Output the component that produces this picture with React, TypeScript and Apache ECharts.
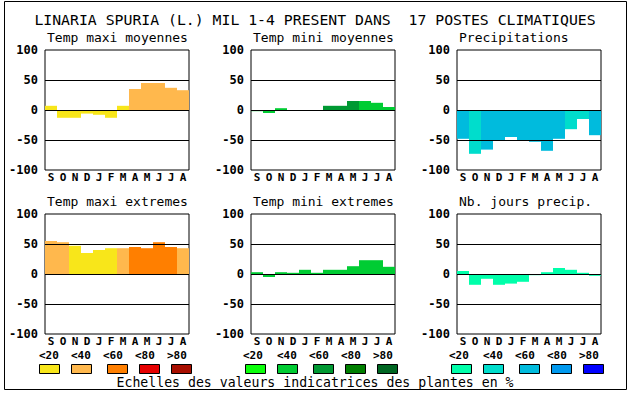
import React, { useEffect, useRef } from "react";
import * as echarts from "echarts";

const months = ["S", "O", "N", "D", "J", "F", "M", "A", "M", "J", "J", "A"];
const yTicks = [-100, -50, 0, 50, 100];

const tmaxMoy = [7, -13, -13, -6, -8, -13, 7, 35, 45, 45, 37, 33];
const tmaxMoyCls = [0, 0, 0, 0, 0, 0, 0, 1, 1, 1, 1, 1];
const tminMoy = [-2, -5, 3, 0, 0, 0, 7, 7, 15, 15, 12, 5];
const tminMoyCls = [1, 1, 1, 1, 1, 1, 2, 2, 2, 1, 1, 1];
const precip = [-48, -73, -66, -50, -45, -50, -53, -68, -48, -32, -15, -42];
const precipCls = [2, 1, 2, 2, 2, 2, 2, 2, 2, 1, 1, 2];
const tmaxExt = [55, 53, 47, 35, 40, 43, 43, 45, 43, 53, 45, 43];
const tmaxExtCls = [1, 1, 0, 0, 0, 0, 1, 2, 2, 2, 2, 1];
const tminExt = [3, -5, 3, 2, 7, 2, 7, 7, 13, 23, 23, 12];
const tminExtCls = [1, 1, 1, 1, 1, 1, 1, 1, 1, 1, 1, 1];
const jours = [5, -18, -8, -18, -16, -13, -2, 3, 10, 7, 2, -3];
const joursCls = [0, 0, 0, 0, 0, 0, 0, 0, 0, 0, 0, 0];

const warmScale = ["#F8E61A", "#FFB84D", "#FF7F00", "#E60000", "#A80E00"];
const greenScale = ["#0BFF0B", "#00CC33", "#009933", "#007F00", "#006622"];
const blueScale = ["#00FFAA", "#00DDCC", "#00BBDD", "#0099EE", "#0000FF"];
const scaleLabels = ["<20", "<40", "<60", "<80", ">80"];

const title = "LINARIA SPURIA (L.) MIL 1-4 PRESENT DANS  17 POSTES CLIMATIQUES";
const footer = "Echelles des valeurs indicatrices des plantes en %";

const panels = [
  { name: "Temp maxi moyennes", values: tmaxMoy, cls: tmaxMoyCls, scale: warmScale },
  { name: "Temp mini moyennes", values: tminMoy, cls: tminMoyCls, scale: greenScale },
  { name: "Precipitations", values: precip, cls: precipCls, scale: blueScale },
  { name: "Temp maxi extremes", values: tmaxExt, cls: tmaxExtCls, scale: warmScale },
  { name: "Temp mini extremes", values: tminExt, cls: tminExtCls, scale: greenScale },
  { name: "Nb. jours precip.", values: jours, cls: joursCls, scale: blueScale },
];

const gridLefts = [45, 251, 457];
const gridTops = [50, 214];
const legendBoxX = [
  [39, 71, 107, 139, 171],
  [245, 277, 313, 345, 377],
  [451, 483, 519, 551, 583],
];
const legendLabelX = [
  [39, 71, 103, 135, 167],
  [243, 277, 309, 341, 373],
  [449, 483, 515, 547, 579],
];
const legendScales = [warmScale, greenScale, blueScale];

const MONO = "'DejaVu Sans Mono', monospace";

export default function App() {
  const ref = useRef<HTMLDivElement>(null);
  useEffect(() => {
    if (!ref.current) return;
    const chart = echarts.init(ref.current, undefined, { renderer: "svg" });
    const grids: any[] = [];
    const xAxes: any[] = [];
    const yAxes: any[] = [];
    const series: any[] = [];
    const graphics: any[] = [];

    panels.forEach((p, i) => {
      const col = i % 3;
      const row = Math.floor(i / 3);
      grids.push({
        left: gridLefts[col],
        top: gridTops[row],
        width: 144,
        height: 120,
        show: true,
        borderColor: "#000",
        borderWidth: 1,
        backgroundColor: "#fff",
      });
      xAxes.push({
        type: "category",
        gridIndex: i,
        data: months,
        axisLine: { show: false },
        axisTick: { show: false },
        axisLabel: {
          margin: 2,
          fontFamily: MONO,
          fontWeight: "bold",
          fontSize: 11,
          lineHeight: 11,
          color: "#000",
        },
      });
      yAxes.push({
        type: "value",
        gridIndex: i,
        min: yTicks[0],
        max: yTicks[yTicks.length - 1],
        interval: 50,
        axisLine: { show: false },
        axisTick: { show: false },
        splitLine: { show: false },
        axisLabel: {
          margin: 7,
          fontFamily: MONO,
          fontWeight: "bold",
          fontSize: 12,
          color: "#000",
        },
      });
      series.push({
        type: "bar",
        xAxisIndex: i,
        yAxisIndex: i,
        barCategoryGap: "0%",
        data: p.values.map((v, k) => ({
          value: v,
          itemStyle: { color: p.scale[p.cls[k]] },
        })),
        markLine: {
          silent: true,
          symbol: ["none", "none"],
          label: { show: false },
          lineStyle: { color: "#000", width: 1, type: "solid" },
          data: [{ yAxis: 0 }, { yAxis: 50 }, { yAxis: -50 }],
        },
      });
      graphics.push({
        type: "text",
        left: gridLefts[col] + 2,
        top: gridTops[row] - 19,
        style: {
          text: p.name,
          font: `13px ${MONO}`,
          fill: "#000",
        },
      });
    });

    graphics.push({
      type: "rect",
      shape: { x: 4.5, y: 1.5, width: 622, height: 388 },
      style: { fill: "none", stroke: "#000", lineWidth: 1 },
      z: 10,
    });
    graphics.push({
      type: "text",
      x: 315,
      y: 19,
      style: {
        text: title,
        font: `14.8px ${MONO}`,
        fill: "#000",
        align: "center",
        verticalAlign: "middle",
      },
    });
    graphics.push({
      type: "text",
      x: 315,
      y: 382,
      style: {
        text: footer,
        font: `13.2px ${MONO}`,
        fill: "#000",
        align: "center",
        verticalAlign: "middle",
      },
    });
    legendScales.forEach((sc, g) => {
      sc.forEach((c, k) => {
        graphics.push({
          type: "rect",
          shape: { x: legendBoxX[g][k] + 0.5, y: 364.5, width: 20, height: 9 },
          style: { fill: c, stroke: "#000", lineWidth: 1 },
        });
        graphics.push({
          type: "text",
          x: legendLabelX[g][k],
          y: 355,
          style: {
            text: scaleLabels[k],
            font: `bold 11px ${MONO}`,
            fill: "#000",
            align: "left",
            verticalAlign: "middle",
          },
        });
      });
    });

    chart.setOption({
      animation: false,
      backgroundColor: "#fff",
      grid: grids,
      xAxis: xAxes,
      yAxis: yAxes,
      series,
      graphic: graphics,
    });
    return () => chart.dispose();
  }, []);
  return (
    <div
      ref={ref}
      style={{ position: "absolute", left: 0, top: 0, width: 630, height: 394 }}
    />
  );
}
